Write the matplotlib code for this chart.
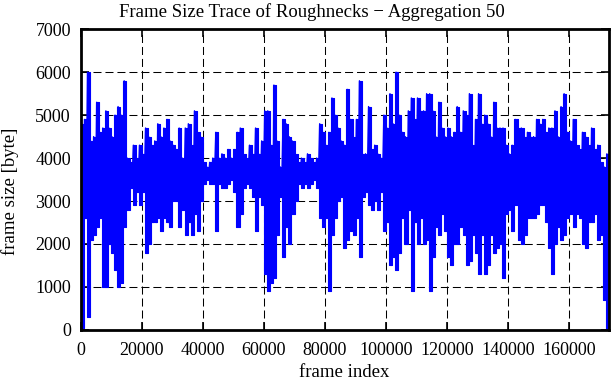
import numpy as np
import matplotlib
matplotlib.use('Agg')
import matplotlib.pyplot as plt

# envelope of the aggregated trace, read per block of 1000 frames
block = 1000
frame_hi = [4800, 4900, 6000, 4400, 4500, 5300, 4600, 4700, 5100, 4700,
            4500, 5000, 5200, 5000, 5800, 4000, 3900, 4300, 4000, 4300,
            4100, 4700, 4500, 4300, 4400, 4800, 4500, 4700, 4900, 4400,
            4300, 4200, 4700, 4000, 4700, 4800, 4300, 5100, 4600, 4500,
            3900, 3800, 3900, 4000, 4600, 4000, 4100, 4000, 4200, 4000,
            4200, 4600, 4700, 4100, 4000, 4300, 4100, 4700, 4100, 4400,
            5100, 5100, 4300, 5700, 4400, 3800, 4900, 4800, 4500, 4400,
            4100, 3900, 4000, 3900, 4100, 4000, 3900, 4000, 4800, 4600,
            4300, 4600, 5400, 5000, 4700, 4400, 4300, 5600, 4900, 4500,
            4900, 5800, 4100, 4100, 5200, 4200, 4300, 4100, 4000, 5000,
            4700, 5500, 4800, 6000, 5000, 4600, 4500, 5100, 5400, 4900,
            5400, 5100, 5100, 5500, 5500, 5100, 4500, 5300, 4700, 4500,
            4700, 4500, 4600, 5200, 4600, 5100, 5000, 5500, 4300, 4900,
            5500, 4800, 5000, 4800, 4500, 5300, 4700, 4700, 4700, 4300,
            4100, 4300, 4900, 4700, 4700, 4500, 4600, 4500, 4500, 4900,
            4800, 4900, 4600, 4700, 4700, 5100, 4500, 5200, 5500, 4600,
            4400, 4900, 4300, 4200, 4600, 4500, 4300, 4700, 4200, 4300,
            3900, 3800, 4100]
frame_lo = [50, 2600, 300, 2100, 2200, 2400, 2600, 1000, 1000, 2000,
            1800, 1400, 1000, 1100, 2400, 2800, 3300, 2900, 3200, 2900,
            3200, 1800, 2000, 2500, 2500, 2600, 2300, 2600, 2500, 2400,
            3000, 3000, 2400, 2800, 2200, 2500, 2200, 2700, 2300, 3000,
            3400, 3500, 3400, 3400, 2300, 3400, 3300, 3300, 3400, 3500,
            3200, 2400, 2700, 3300, 3400, 3300, 3100, 2300, 3100, 2900,
            1300, 900, 1100, 1200, 2200, 3100, 1700, 2400, 2000, 2700,
            3000, 3400, 3300, 3400, 3300, 3400, 3500, 3300, 2600, 2400,
            2600, 900, 2200, 2600, 3000, 3100, 1900, 2100, 2300, 2200,
            2600, 1700, 3100, 3200, 2900, 2800, 3000, 2800, 3200, 2300,
            2500, 1500, 1700, 1400, 1800, 2600, 2000, 2800, 900, 2500,
            2000, 2600, 2000, 2100, 900, 1700, 2400, 2200, 2700, 2300,
            1700, 1500, 2000, 2000, 2400, 2200, 1500, 1600, 2200, 1800,
            1300, 2200, 1300, 1500, 2200, 1800, 1900, 2000, 1200, 2700,
            2800, 2300, 2900, 2100, 2000, 2200, 2600, 2600, 2600, 2700,
            2900, 2900, 2500, 1900, 1300, 2000, 2400, 2100, 2200, 2600,
            2700, 2400, 2700, 2600, 2000, 1900, 2500, 2500, 2700, 2100,
            2200, 700, 0]

centre = np.arange(len(frame_hi)) * block + block / 2
x = np.column_stack([centre - 250, centre + 250]).ravel()
y = np.column_stack([frame_hi, frame_lo]).ravel()

plt.rcParams['font.family'] = ['Liberation Serif', 'DejaVu Serif']
fig = plt.figure(figsize=(6.11, 3.80), dpi=100)
ax = fig.add_axes([0.132, 0.132, 0.864, 0.791])

# solid band between block minima and maxima, plus the trace itself
ax.fill_between(centre, frame_lo, frame_hi, step='mid', color='#0000ff',
                linewidth=0.8, edgecolor='#0000ff')
ax.plot(x, y, color='#0000ff', linewidth=1.0)

ax.set_xlim(0, 172800)
ax.set_ylim(0, 7000)
ax.set_xticks(np.arange(0, 160001, 20000))
ax.set_yticks(np.arange(0, 7001, 1000))
ax.grid(True, color='k', linestyle=(0, (7.7, 3.8)), linewidth=0.75)
ax.set_axisbelow(True)
ax.tick_params(direction='in', length=6, width=1.2, top=True, right=True,
               labelsize=13)
ax.tick_params(axis='x', pad=9)
ax.tick_params(axis='y', pad=7)
for s in ax.spines.values():
    s.set_linewidth(2)

ax.set_xlabel('frame index', fontsize=13.5, labelpad=3)
ax.set_ylabel('frame size [byte]', fontsize=13.5)
ax.yaxis.set_label_coords(-0.117, 0.462)
# title is centred on the page, not on the axes
fig.text(0.511, 0.968, 'Frame Size Trace of Roughnecks \u2212 Aggregation 50',
         fontsize=13.5, ha='center', va='center')

fig.savefig('out.png', dpi=100)
